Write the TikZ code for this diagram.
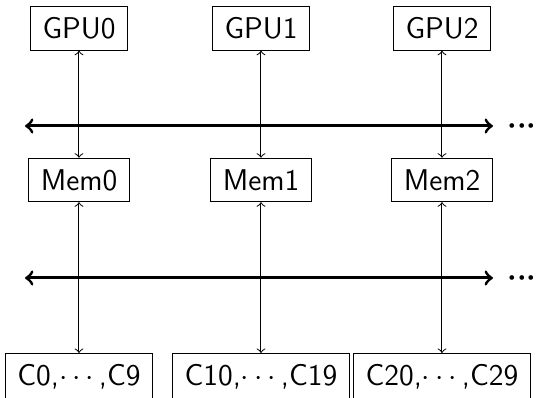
\documentclass[tikz,border=0pt]{standalone}
\usepackage{amsmath}
\usepackage{tikz}

\begin{document}
\begin{tikzpicture}[x=0.4pt, y=0.4pt,
    unit/.style={rectangle, draw, line width=0.4pt, minimum height=17.4pt,
                 inner xsep=4.8pt, inner ysep=0pt, font=\fontsize{12}{14.4}\selectfont\sffamily},
    link/.style={<->, line width=0.4pt},
    bus/.style={<->, very thick}]
  \useasboundingbox (0,0) rectangle (536,398);
  % two buses
  \foreach \b/\y in {top/272, low/120} {
    \coordinate (\b-l) at (25,\y);
    \coordinate (\b-r) at (493,\y);
    \draw[bus] (\b-l) -- (\b-r);
    \node[anchor=base west, inner sep=0pt, font=\fontsize{12}{14.4}\selectfont]
      (\b-dots) at (507,\y-7.5) {$\boldsymbol{{\cdot}{\cdot}{\cdot}}$};
  }
  \foreach \i/\x [evaluate=\i as \a using int(10*\i), evaluate=\i as \z using int(10*\i+9)]
      in {0/79, 1/261, 2/442} {
    \node[unit] (gpu\i) at (\x,369.5) {GPU\i};
    \node[unit] (mem\i) at (\x,218) {Mem\i};
    \node[unit, anchor=north, minimum height=19pt] (cpu\i) at (\x,45) {C\a,$\cdots$,C\z};
    \draw[link] (gpu\i) -- (mem\i);
    \draw[link] (mem\i) -- (cpu\i);
  }
\end{tikzpicture}
\end{document}
